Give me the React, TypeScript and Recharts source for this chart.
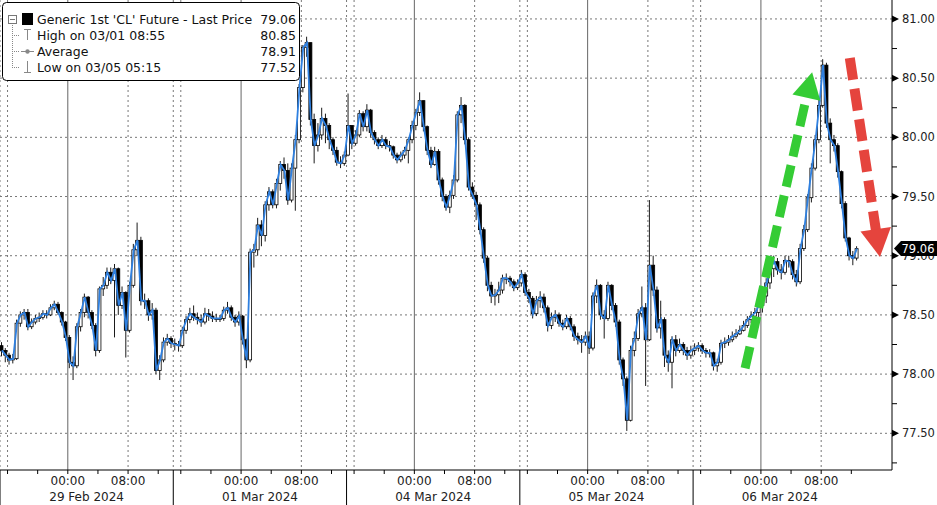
import React from 'react';
import { ComposedChart, Bar, Line, XAxis, YAxis, CartesianGrid, ReferenceLine } from 'recharts';

// 30-minute bars, 46 per 23h session
const feb29Close = [78.20, 78.16, 78.12, 78.13, 78.43, 78.50, 78.52, 78.40, 78.44, 78.47, 78.48, 78.51, 78.50, 78.56, 78.59, 78.52, 78.44, 78.31, 78.10, 78.07, 78.40, 78.52, 78.65, 78.52, 78.41, 78.20, 78.72, 78.75, 78.86, 78.79, 78.89, 78.58, 78.69, 78.37, 78.75, 79.05, 79.13, 78.62, 78.62, 78.50, 78.54, 78.03, 78.12, 78.27, 78.30, 78.26];
const feb29High = [78.27, 78.22, 78.18, 78.17, 78.46, 78.53, 78.55, 78.55, 78.47, 78.50, 78.52, 78.54, 78.54, 78.59, 78.62, 78.61, 78.53, 78.45, 78.33, 78.15, 78.43, 78.55, 78.68, 78.66, 78.54, 78.43, 78.74, 78.82, 78.90, 78.90, 78.93, 78.90, 78.74, 78.70, 78.78, 79.10, 79.28, 79.16, 78.68, 78.64, 78.60, 78.56, 78.16, 78.31, 78.34, 78.32];
const feb29Low = [78.15, 78.10, 78.08, 78.09, 78.12, 78.40, 78.46, 78.37, 78.38, 78.42, 78.44, 78.46, 78.47, 78.49, 78.54, 78.50, 78.41, 78.28, 78.05, 77.95, 78.05, 78.36, 78.48, 78.47, 78.38, 78.15, 78.18, 78.66, 78.72, 78.76, 78.31, 78.50, 78.55, 78.14, 78.35, 78.73, 79.00, 78.58, 78.55, 78.45, 78.46, 78.00, 77.95, 78.10, 78.24, 78.22];

const mar01Close = [78.25, 78.24, 78.37, 78.46, 78.51, 78.48, 78.46, 78.44, 78.51, 78.49, 78.47, 78.47, 78.47, 78.54, 78.56, 78.48, 78.44, 78.49, 78.29, 78.12, 79.03, 79.05, 79.26, 79.17, 79.43, 79.54, 79.43, 79.61, 79.77, 79.72, 79.47, 79.74, 79.98, 80.42, 80.76, 80.80, 80.15, 79.93, 80.02, 80.16, 80.10, 79.98, 79.89, 79.79, 79.78, 79.85];
const mar01High = [78.30, 78.28, 78.40, 78.49, 78.56, 78.58, 78.52, 78.50, 78.56, 78.55, 78.53, 78.51, 78.50, 78.57, 78.61, 78.58, 78.50, 78.53, 78.50, 78.30, 79.06, 79.10, 79.32, 79.30, 79.46, 79.58, 79.56, 79.65, 79.80, 79.83, 79.78, 79.78, 80.02, 80.45, 80.78, 80.85, 80.80, 80.20, 80.12, 80.25, 80.20, 80.12, 80.00, 79.92, 79.84, 79.88];
const mar01Low = [78.20, 78.19, 78.22, 78.34, 78.43, 78.45, 78.42, 78.40, 78.42, 78.45, 78.44, 78.44, 78.44, 78.45, 78.51, 78.45, 78.40, 78.41, 78.25, 78.05, 78.10, 78.90, 79.00, 79.08, 79.12, 79.38, 79.40, 79.40, 79.55, 79.65, 79.43, 79.45, 79.38, 79.95, 80.38, 80.68, 80.10, 79.78, 79.88, 79.98, 79.95, 79.90, 79.85, 79.76, 79.74, 79.76];

const mar04Close = [80.10, 79.95, 80.02, 80.20, 80.09, 80.23, 80.04, 79.98, 79.93, 79.98, 79.93, 79.92, 79.85, 79.81, 79.85, 79.89, 79.98, 80.10, 80.21, 80.31, 80.09, 79.89, 79.77, 79.88, 79.64, 79.50, 79.41, 79.51, 79.64, 80.19, 80.27, 79.98, 79.58, 79.51, 79.43, 79.22, 78.98, 78.75, 78.66, 78.67, 78.71, 78.81, 78.81, 78.78, 78.73, 78.77];
const mar04High = [80.37, 80.08, 80.06, 80.23, 80.22, 80.28, 80.24, 80.06, 80.00, 80.02, 80.00, 79.97, 79.93, 79.87, 79.88, 79.92, 80.00, 80.14, 80.24, 80.38, 80.30, 80.10, 79.92, 79.92, 79.90, 79.66, 79.52, 79.55, 79.68, 80.22, 80.34, 80.28, 80.00, 79.62, 79.54, 79.45, 79.24, 79.00, 78.78, 78.72, 78.78, 78.84, 78.85, 78.83, 78.80, 78.80];
const mar04Low = [79.84, 79.90, 79.93, 80.00, 80.05, 80.05, 80.00, 79.94, 79.90, 79.91, 79.90, 79.88, 79.82, 79.78, 79.79, 79.82, 79.78, 79.95, 80.06, 80.18, 80.05, 79.85, 79.74, 79.76, 79.60, 79.46, 79.38, 79.36, 79.48, 79.62, 80.12, 79.94, 79.55, 79.48, 79.30, 79.18, 78.94, 78.70, 78.60, 78.58, 78.60, 78.68, 78.76, 78.74, 78.70, 78.71];

const mar05Close = [78.84, 78.69, 78.64, 78.51, 78.62, 78.65, 78.56, 78.41, 78.48, 78.50, 78.43, 78.40, 78.47, 78.40, 78.32, 78.29, 78.27, 78.32, 78.22, 78.66, 78.75, 78.50, 78.47, 78.75, 78.58, 78.44, 78.12, 77.96, 77.61, 78.20, 78.30, 78.51, 78.56, 78.29, 78.92, 78.71, 78.39, 78.46, 78.16, 78.10, 78.29, 78.20, 78.25, 78.20, 78.16, 78.20];
const mar05High = [78.88, 78.86, 78.72, 78.66, 78.66, 78.70, 78.68, 78.58, 78.52, 78.54, 78.52, 78.46, 78.50, 78.49, 78.42, 78.35, 78.33, 78.36, 78.36, 78.69, 78.80, 78.76, 78.54, 78.78, 78.76, 78.60, 78.46, 78.14, 77.98, 78.24, 78.36, 78.55, 78.74, 78.60, 79.47, 79.00, 78.74, 78.62, 78.48, 78.20, 78.32, 78.33, 78.30, 78.27, 78.23, 78.24];
const mar05Low = [78.74, 78.66, 78.60, 78.47, 78.49, 78.56, 78.52, 78.36, 78.38, 78.44, 78.40, 78.37, 78.38, 78.37, 78.28, 78.25, 78.18, 78.24, 78.17, 78.20, 78.60, 78.46, 78.30, 78.45, 78.54, 78.40, 78.08, 77.90, 77.52, 77.60, 78.15, 78.28, 78.48, 77.90, 78.28, 78.66, 78.35, 78.30, 78.06, 78.02, 77.88, 78.15, 78.18, 78.16, 78.12, 78.13];

const mar06Close = [78.22, 78.24, 78.20, 78.18, 78.18, 78.07, 78.10, 78.26, 78.27, 78.29, 78.32, 78.34, 78.37, 78.41, 78.46, 78.49, 78.52, 78.58, 78.66, 78.77, 78.89, 78.95, 78.88, 78.86, 78.96, 78.95, 78.84, 78.78, 79.06, 79.22, 79.49, 79.74, 79.98, 80.27, 80.61, 80.12, 79.98, 79.93, 79.71, 79.44, 79.15, 79.00, 78.98, 79.06];
const mar06High = [78.26, 78.27, 78.26, 78.22, 78.21, 78.19, 78.13, 78.29, 78.31, 78.33, 78.36, 78.38, 78.41, 78.45, 78.49, 78.53, 78.56, 78.62, 78.70, 78.81, 78.94, 79.00, 78.98, 78.93, 79.00, 79.00, 78.97, 78.88, 79.10, 79.26, 79.52, 79.78, 80.02, 80.32, 80.66, 80.63, 80.16, 80.02, 79.95, 79.72, 79.46, 79.16, 79.04, 79.08];
const mar06Low = [78.16, 78.19, 78.17, 78.14, 78.14, 78.03, 78.02, 78.08, 78.22, 78.24, 78.27, 78.30, 78.33, 78.36, 78.39, 78.43, 78.46, 78.44, 78.52, 78.60, 78.72, 78.82, 78.84, 78.80, 78.84, 78.90, 78.80, 78.74, 78.76, 79.04, 79.20, 79.45, 79.72, 79.95, 80.25, 80.08, 79.78, 79.88, 79.66, 79.40, 79.12, 78.96, 78.92, 78.96];

const dayLabels = ['29 Feb 2024', '01 Mar 2024', '04 Mar 2024', '05 Mar 2024', '06 Mar 2024'];
const yTicks = [77.25, 77.5, 77.75, 78, 78.25, 78.5, 78.75, 79, 79.25, 79.5, 79.75, 80, 80.25, 80.5, 80.75, 81];
const yGrid = [77.5, 78, 78.5, 79, 79.5, 80, 80.5, 81];
// hour offsets inside a 23h session (00:00 sits 9h in)
const sessionTicks = [0, 1, 5, 9, 13, 17, 21];
const sessionLabels: Record<number, string> = { 9: '00:00', 17: '08:00' };

const legendRows = [
  { label: "Generic 1st 'CL' Future - Last Price", value: '79.06' },
  { label: 'High on 03/01 08:55', value: '80.85' },
  { label: 'Average', value: '78.91' },
  { label: 'Low on 03/05 05:15', value: '77.52' },
];

const LAST = 79.06;
const FIRST_OPEN = 78.24;
const SESSION = 23;
const BAR_H = 0.5;
const X_MAX = 118.4;
const Y_DOMAIN: [number, number] = [77.19, 81.16];
const FONT = "'DejaVu Sans', sans-serif";

const days = [
  { close: feb29Close, high: feb29High, low: feb29Low },
  { close: mar01Close, high: mar01High, low: mar01Low },
  { close: mar04Close, high: mar04High, low: mar04Low },
  { close: mar05Close, high: mar05High, low: mar05Low },
  { close: mar06Close, high: mar06High, low: mar06Low },
];

const rows: any[] = [];
let prevClose = FIRST_OPEN;
days.forEach((d, k) => {
  d.close.forEach((c, i) => {
    const open = prevClose;
    const high = Math.max(d.high[i], open, c);
    const low = Math.min(d.low[i], open, c);
    rows.push({ t: k * SESSION + (i + 0.5) * BAR_H, open, high, low, close: c, range: [low, high] });
    prevClose = c;
  });
});

const xTicks: number[] = [];
days.forEach((_, k) => sessionTicks.forEach(h => xTicks.push(k * SESSION + h)));
const dateTicks = days.map((_, k) => k * SESSION + SESSION / 2);
const dottedX: number[] = [];
days.forEach((_, k) => [0, 1, 17].forEach(h => dottedX.push(k * SESSION + h)));
const midnightX = days.map((_, k) => k * SESSION + 9);

const Candle = (props: any) => {
  const { x, y, width, height, payload } = props;
  if (x == null || y == null || !payload) return null;
  const top = Math.min(y, y + height);
  const h = Math.abs(height);
  const { open, close, high, low } = payload;
  const span = high - low || 1;
  const yOf = (v: number) => top + ((high - v) / span) * h;
  const bTop = yOf(Math.max(open, close));
  const bBot = yOf(Math.min(open, close));
  const up = close >= open;
  const cx = x + width / 2;
  return (
    <g>
      <line x1={cx} x2={cx} y1={top} y2={top + h} stroke="#000" strokeWidth={0.9} />
      <rect x={x} y={bTop} width={width} height={Math.max(bBot - bTop, 1)} fill={up ? '#fff' : '#000'} stroke="#000" strokeWidth={0.8} />
    </g>
  );
};

const XTick = (props: any) => {
  const { x, y, payload } = props;
  const h = Math.round(payload.value) % SESSION;
  if (h === 0) return <line x1={x} x2={x} y1={y} y2={y + 36} stroke="#000" strokeWidth={1} />;
  const label = sessionLabels[h];
  return (
    <g>
      <line x1={x} x2={x} y1={y} y2={y + 4} stroke="#000" strokeWidth={1} />
      {label && (
        <text x={x} y={y + 11} dy="0.35em" textAnchor="middle" fontSize={12} fontFamily={FONT} fill="#222">{label}</text>
      )}
    </g>
  );
};

const DateTick = (props: any) => {
  const { x, y, payload } = props;
  const idx = dateTicks.indexOf(payload.value);
  return (
    <text x={x} y={y + 9} dy="0.35em" textAnchor="middle" fontSize={12} fontFamily={FONT} fill="#222">{dayLabels[idx]}</text>
  );
};

const YTick = (props: any) => {
  const { x, y, payload } = props;
  const v = payload.value;
  if (v === LAST) {
    return (
      <g>
        <path d={`M${x + 2},${y} L${x + 9},${y - 7.5} L${x + 45},${y - 7.5} L${x + 45},${y + 7.5} L${x + 9},${y + 7.5} Z`} fill="#000" />
        <text x={x + 26} y={y} dy="0.36em" textAnchor="middle" fontSize={11.5} fontFamily={FONT} fill="#fff">{LAST.toFixed(2)}</text>
      </g>
    );
  }
  const major = yGrid.includes(v);
  if (!major) return <line x1={x} x2={x + 5} y1={y} y2={y} stroke="#000" strokeWidth={1} />;
  return (
    <g>
      <path d={`M${x},${y - 3.5} L${x + 7},${y} L${x},${y + 3.5} Z`} fill="#000" />
      <text x={x + 10} y={y} dy="0.36em" textAnchor="start" fontSize={11.5} fontFamily={FONT} fill="#222">{v.toFixed(2)}</text>
    </g>
  );
};

const arrowShape = (color: string, w: number, head: number) => (props: any) => {
  const { x1, y1, x2, y2 } = props;
  if ([x1, y1, x2, y2].some(v => v == null || isNaN(v))) return <g />;
  const dx = x2 - x1;
  const dy = y2 - y1;
  const len = Math.sqrt(dx * dx + dy * dy) || 1;
  const ux = dx / len;
  const uy = dy / len;
  const bx = x2 - ux * head;
  const by = y2 - uy * head;
  const nx = -uy;
  const ny = ux;
  const hw = head * 0.55;
  return (
    <g>
      <line x1={x1} y1={y1} x2={bx + ux * 2} y2={by + uy * 2} stroke={color} strokeWidth={w} strokeDasharray="22 9" />
      <path d={`M${x2},${y2} L${bx + nx * hw},${by + ny * hw} L${bx - nx * hw},${by - ny * hw} Z`} fill={color} />
    </g>
  );
};

const Legend = () => (
  <svg width={304} height={86} style={{ position: 'absolute', left: 0, top: 0 }}>
    <rect x={2.5} y={2.5} width={297} height={78} rx={4} fill="#fff" stroke="#000" />
    <line x1={12.5} x2={12.5} y1={23} y2={67} stroke="#888" strokeDasharray="1 1" />
    {[35, 51, 67].map(yy => <line key={yy} x1={12} x2={19} y1={yy + 0.5} y2={yy + 0.5} stroke="#888" strokeDasharray="1 1" />)}
    <rect x={8.5} y={15.5} width={8} height={8} fill="#fff" stroke="#777" />
    <line x1={10} x2={15} y1={19.5} y2={19.5} stroke="#777" />
    <rect x={22} y={13} width={11} height={12} fill="#000" />
    <line x1={24} x2={31} y1={29.5} y2={29.5} stroke="#888" />
    <line x1={27.5} x2={27.5} y1={29} y2={40} stroke="#888" />
    <line x1={21} x2={34} y1={51.5} y2={51.5} stroke="#888" />
    <circle cx={27.5} cy={51.5} r={2.2} fill="#888" />
    <line x1={27.5} x2={27.5} y1={61} y2={72} stroke="#888" />
    <line x1={24} x2={31} y1={72.5} y2={72.5} stroke="#888" />
    {legendRows.map((r, i) => (
      <g key={r.label}>
        <text x={37} y={19 + i * 16} dy="0.36em" fontSize={12.5} fontFamily={FONT} fill="#111">{r.label}</text>
        <text x={296} y={19 + i * 16} dy="0.36em" textAnchor="end" fontSize={12.5} fontFamily={FONT} fill="#111">{r.value}</text>
      </g>
    ))}
  </svg>
);

export default function App() {
  return (
    <div style={{ position: 'relative', width: 937, height: 505, background: '#fff' }}>
      <style>{'body{margin:0}'}</style>
      <ComposedChart width={937} height={505} data={rows} margin={{ top: 0, right: 0, bottom: 0, left: 0 }}>
        <CartesianGrid stroke="#777" strokeDasharray="2 3" horizontalValues={yGrid} verticalValues={dottedX} />
        {midnightX.map(v => (
          <ReferenceLine key={v} x={v} stroke="#666" strokeWidth={1} />
        ))}
        <XAxis dataKey="t" type="number" domain={[0, X_MAX]} allowDataOverflow ticks={xTicks} interval={0}
          tick={<XTick />} tickLine={false} tickSize={0} tickMargin={0} axisLine={{ stroke: '#000' }} height={18} />
        <XAxis xAxisId="date" dataKey="t" type="number" domain={[0, X_MAX]} allowDataOverflow ticks={dateTicks} interval={0}
          tick={<DateTick />} tickLine={false} tickSize={0} tickMargin={0} axisLine={false} height={17} />
        <YAxis orientation="right" type="number" domain={Y_DOMAIN} allowDataOverflow ticks={[...yTicks, LAST]} interval={0}
          tick={<YTick />} tickLine={false} tickSize={0} tickMargin={0} axisLine={{ stroke: '#000' }} width={45} />
        <Bar dataKey="range" barSize={3} shape={<Candle />} isAnimationActive={false} />
        <Line dataKey="close" type="linear" stroke="#2f80e0" strokeWidth={1.8} dot={false} isAnimationActive={false} />
        <ReferenceLine segment={[{ x: 98.9, y: 78.05 }, { x: 107.8, y: 80.55 }]} shape={arrowShape('#35cc35', 9, 26)} />
        <ReferenceLine segment={[{ x: 112.8, y: 80.67 }, { x: 116.8, y: 78.99 }]} shape={arrowShape('#e5443d', 10, 28)} />
      </ComposedChart>
      <Legend />
    </div>
  );
}
